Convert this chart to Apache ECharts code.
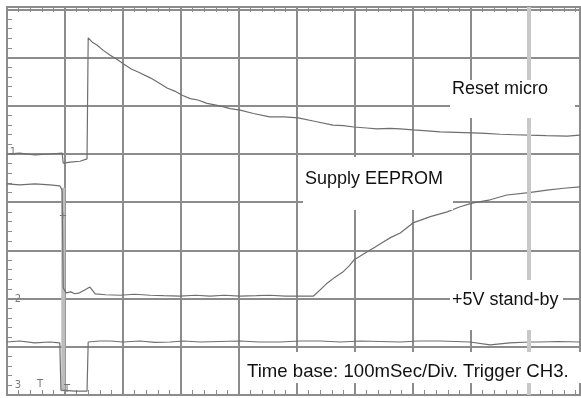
<!DOCTYPE html>
<html>
<head>
<meta charset="utf-8">
<script src="https://cdn.jsdelivr.net/npm/echarts@6/dist/echarts.min.js"></script>
<style>
html,body{margin:0;padding:0;background:#fff;}
#c{width:581px;height:398px;}
</style>
</head>
<body>
<div id="c"></div>
<script>
// Time in divisions (100 ms/div), amplitude in screen divisions from bottom
const resetT = [0,0.22,0.48,0.74,0.95,0.97,1.09,1.26,1.38,1.40,1.47,1.55,1.66,1.78,1.90,2.03,2.15,2.26,2.47,2.60,2.76,2.90,3.02,3.16,3.29,3.45,3.67,3.85,4.02,4.25,4.53,4.78,5.02,5.30,5.62,5.80,5.98,6.20,6.38,6.60,6.78,7.00,7.25,7.47,7.75,8.02,8.25,8.50,8.75,9.00,9.30,9.66,9.88];
const resetV = [5.00,5.02,4.98,5.00,5.02,4.81,4.83,4.85,4.90,7.41,7.32,7.26,7.15,7.05,6.96,6.85,6.76,6.70,6.58,6.49,6.37,6.30,6.22,6.15,6.12,6.05,6.00,5.94,5.91,5.84,5.77,5.77,5.75,5.68,5.60,5.59,5.56,5.54,5.52,5.53,5.52,5.50,5.48,5.46,5.45,5.44,5.43,5.41,5.40,5.39,5.38,5.37,5.39];

const supplyT = [0,0.22,0.48,0.74,0.91,0.95,0.97,1.02,1.10,1.17,1.25,1.34,1.43,1.52,1.70,1.95,2.20,2.47,2.70,2.98,3.25,3.50,3.75,4.02,4.30,4.53,4.80,5.05,5.28,5.40,5.52,5.65,5.79,5.90,5.98,6.10,6.21,6.35,6.48,6.62,6.78,7.00,7.30,7.59,7.80,8.02,8.33,8.62,9.00,9.31,9.60,9.88];
const supplyV = [4.38,4.36,4.38,4.36,4.34,4.25,2.22,2.12,2.14,2.10,2.12,2.18,2.24,2.10,2.08,2.07,2.09,2.07,2.06,2.05,2.07,2.05,2.07,2.05,2.06,2.07,2.05,2.05,2.05,2.18,2.32,2.44,2.55,2.68,2.80,2.89,2.97,3.07,3.17,3.27,3.36,3.57,3.70,3.80,3.90,3.98,4.05,4.15,4.20,4.25,4.29,4.32];

const standbyT = [0,0.22,0.48,0.74,0.91,0.93,1.17,1.38,1.40,1.60,1.78,2.00,2.29,2.55,2.81,3.05,3.33,3.65,4.02,4.35,4.71,5.05,5.40,5.75,6.09,6.45,6.78,7.10,7.47,7.98,8.33,8.67,9.00,9.19,9.50,9.88];
const standbyV = [1.10,1.12,1.08,1.10,1.08,0.10,0.08,0.08,1.10,1.12,1.12,1.10,1.12,1.09,1.10,1.12,1.10,1.11,1.12,1.10,1.10,1.12,1.12,1.10,1.12,1.11,1.10,1.12,1.12,1.10,1.04,1.08,1.10,1.10,1.11,1.10];

// light wide trace band of the falling edges
const bandT = [0.97,0.97];
const bandV = [4.30,0.08];

const pairs = (t, v) => t.map((x, i) => [x, v[i]]);

const chart = echarts.init(document.getElementById('c'), null, {renderer: 'canvas'});
const gridColor = '#8c8c8c';
const traceColor = '#6e6e6e';
const fontFamily = '"Liberation Sans", Arial, sans-serif';

function box(x, y, w, h) {
  return {type: 'rect', shape: {x: x, y: y, width: w, height: h}, style: {fill: '#ffffff'}, z: 100};
}
function label(x, y, text, size) {
  return {type: 'text', x: x, y: y, z: 101, style: {text: text, font: size + 'px ' + fontFamily, fill: '#111', textVerticalAlign: 'middle', textAlign: 'left'}};
}
function mark(x, y, text) {
  return {type: 'text', x: x, y: y, z: 50, style: {text: text, font: '10px "DejaVu Sans", sans-serif', fill: '#777', textVerticalAlign: 'middle', textAlign: 'center'}};
}

chart.setOption({
  backgroundColor: '#ffffff',
  animation: false,
  grid: {left: 7, right: 1, top: 7, bottom: 3, show: true, borderColor: gridColor, borderWidth: 2, backgroundColor: 'transparent'},
  xAxis: [{
    type: 'value', min: 0, max: 9.88, interval: 1, position: 'bottom',
    axisLabel: {show: false}, axisLine: {show: false},
    axisTick: {show: true, inside: true, length: 5, lineStyle: {color: gridColor}},
    minorTick: {show: true, splitNumber: 5, length: 5, lineStyle: {color: gridColor, width: 1}},
    splitLine: {show: true, lineStyle: {color: gridColor, width: 2}}
  }, {
    type: 'value', min: 0, max: 9.88, interval: 1, position: 'top',
    axisLabel: {show: false}, axisLine: {show: false},
    axisTick: {show: true, inside: true, length: 5, lineStyle: {color: gridColor}},
    minorTick: {show: true, splitNumber: 5, length: 5, lineStyle: {color: gridColor, width: 1}},
    splitLine: {show: false}
  }],
  yAxis: {
    type: 'value', min: 0, max: 8.05, interval: 1,
    axisLabel: {show: false}, axisLine: {show: false},
    axisTick: {show: true, inside: true, length: 5, lineStyle: {color: gridColor}},
    minorTick: {show: true, splitNumber: 5, length: 5, lineStyle: {color: gridColor, width: 1}},
    splitLine: {show: true, lineStyle: {color: gridColor, width: 2}}
  },
  series: [
    {type: 'line', name: 'band', data: pairs(bandT, bandV), showSymbol: false, silent: true,
     lineStyle: {color: '#bdbdbd', width: 4}, z: 2,
     markLine: {silent: true, symbol: 'none', label: {show: false},
       lineStyle: {color: '#c8c8c8', width: 4, type: 'solid'}, data: [{xAxis: 9}]}},
    {type: 'line', name: 'Reset micro', data: pairs(resetT, resetV), showSymbol: false,
     lineStyle: {color: traceColor, width: 1.2}, z: 3},
    {type: 'line', name: 'Supply EEPROM', data: pairs(supplyT, supplyV), showSymbol: false,
     lineStyle: {color: traceColor, width: 1.2}, z: 3},
    {type: 'line', name: '+5V stand-by', data: pairs(standbyT, standbyV), showSymbol: false,
     lineStyle: {color: traceColor, width: 1.2}, z: 3}
  ],
  graphic: [
    box(450, 80, 125, 38), label(452, 89, 'Reset micro', 18),
    box(303, 157, 150, 53), label(305, 179, 'Supply EEPROM', 18),
    box(450, 280, 113, 50), label(452, 300, '+5V stand-by', 18),
    box(244, 352, 337, 31), label(247, 372, 'Time base: 100mSec/Div. Trigger CH3.', 18.6),
    mark(13, 152, '1'), mark(18, 299, '2'), mark(18, 385, '3'),
    mark(40, 384, 'T'), mark(67, 389, 'T'), mark(63, 216, '+')
  ]
});
</script>
</body>
</html>
